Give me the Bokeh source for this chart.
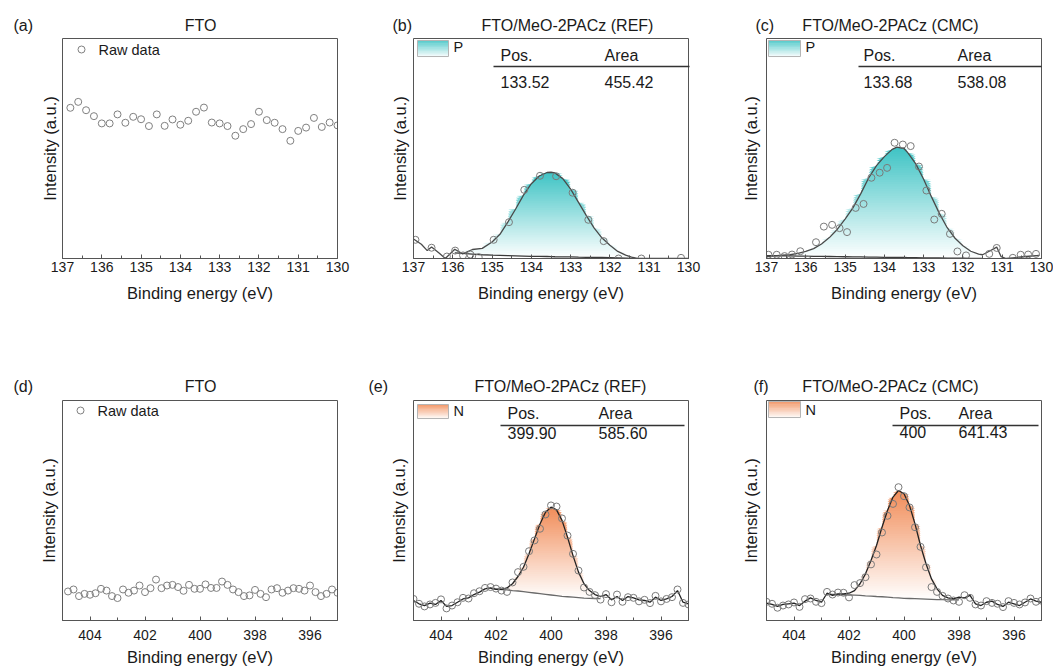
import numpy as np
from bokeh.plotting import figure
from bokeh.layouts import column, row
from bokeh.models import Range1d, FixedTicker, Label
from bokeh.embed import file_html
from bokeh.resources import INLINE

FONT = "Liberation Sans"
TXT = "#1a1a1a"
EDGE = "#555555"
TEAL = (62, 195, 196)
ORANGE = (241, 140, 88)

# ---------------- data ----------------
titles = ["FTO", "FTO/MeO-2PACz (REF)", "FTO/MeO-2PACz (CMC)",
          "FTO", "FTO/MeO-2PACz (REF)", "FTO/MeO-2PACz (CMC)"]
letters = ["(a)", "(b)", "(c)", "(d)", "(e)", "(f)"]
x_label = "Binding energy (eV)"
y_label = "Intensity (a.u.)"
raw_label = "Raw data"
p_ticks = [137, 136, 135, 134, 133, 132, 131, 130]
p_minor = [136.5, 135.5, 134.5, 133.5, 132.5, 131.5, 130.5]
n_ticks = [404, 402, 400, 398, 396]
n_minor = [405, 403, 401, 399, 397, 395]
table_head = ["Pos.", "Area"]
b_table = ["133.52", "455.42"]
c_table = ["133.68", "538.08"]
e_table = ["399.90", "585.60"]
f_table = ["400", "641.43"]

# (a) FTO, P region raw data
a_x = [136.8, 136.6, 136.4, 136.2, 136.0, 135.8, 135.6, 135.4, 135.2, 135.0,
       134.8, 134.6, 134.4, 134.2, 134.0, 133.8, 133.6, 133.4, 133.2, 133.0,
       132.8, 132.6, 132.4, 132.2, 132.0, 131.8, 131.6, 131.4, 131.2, 131.0,
       130.8, 130.6, 130.4, 130.2, 130.0]
a_y = [68.5, 71.2, 67.4, 64.7, 61.4, 61.4, 65.5, 61.7, 64.4, 63.3,
       60.2, 65.5, 60.3, 63.2, 60.8, 62.6, 66.7, 68.6, 61.8, 61.4,
       60.2, 55.8, 58.8, 61.1, 66.7, 62.9, 61.7, 58.8, 53.5, 58.0,
       59.5, 63.9, 59.8, 61.8, 60.5]

# (b) REF, P region
b_x = [136.95, 136.54, 136.15, 135.94, 135.74, 135.55, 135.34, 134.96, 134.57,
       134.18, 133.78, 133.37, 132.95, 132.55, 132.16, 131.78, 131.2, 130.19]
b_y = [8.5, 4.9, 0.9, 3.6, 1.4, 1.8, 0.6, 8.5, 16.5,
       31.2, 37.6, 37.4, 29.9, 17.6, 7.9, 0.0, 0.0, 0.3]
b_fit_x = [137.0, 136.8, 136.65, 136.54, 136.35, 136.19, 135.95, 135.75, 135.5, 135.25,
           135.0, 134.8, 134.6, 134.4, 134.2, 134.0, 133.8, 133.6, 133.5, 133.4,
           133.2, 133.0, 132.8, 132.6, 132.4, 132.2, 132.0, 131.8, 131.6, 131.45,
           131.3, 131.0, 130.5, 130.0]
b_fit_y = [8.9, 6.5, 3.6, 5.2, 2.5, 0.0, 4.2, 2.1, 4.1, 4.6,
           7.5, 11.0, 16.5, 22.5, 28.8, 34.0, 37.5, 39.1, 39.2, 38.9,
           36.3, 31.5, 25.5, 19.5, 13.8, 9.3, 6.0, 3.2, 1.5, 0.6,
           0.0, 0.0, 0.0, 0.0]
b_base_y = [None, None, None, None, None, None, 2.6, 2.3, 2.0, 1.7,
            1.5, 1.4, 1.3, 1.2, 1.1, 1.0, 0.95, 0.9, 0.85, 0.8,
            0.75, 0.7, 0.6, 0.55, 0.5, 0.45, 0.4, 0.3, 0.2, 0.1,
            None, None, None, None]

# (c) CMC, P region
c_x = [136.95, 136.74, 136.54, 136.35, 136.14, 135.95, 135.74, 135.54, 135.33, 135.14,
       134.95, 134.73, 134.53, 134.33, 134.12, 133.93, 133.74, 133.53, 133.33, 133.12,
       132.93, 132.73, 132.54, 132.33, 132.14, 131.92, 131.33, 131.14, 130.73, 130.53,
       130.34, 130.14]
c_y = [1.7, 1.7, 1.1, 1.8, 3.3, -0.6, 7.4, 14.5, 15.3, 13.8,
       12.0, 23.0, 24.8, 36.7, 39.0, 41.2, 52.6, 51.8, 51.1, 41.8,
       30.9, 17.7, 20.3, 11.2, 3.2, 1.4, 2.1, 4.8, 0.3, 1.7,
       1.8, 2.1]
c_fit_x = [137.0, 136.8, 136.6, 136.4, 136.2, 136.0, 135.8, 135.6, 135.4, 135.2,
           135.0, 134.8, 134.6, 134.4, 134.2, 134.0, 133.8, 133.68, 133.5, 133.4,
           133.2, 133.0, 132.8, 132.6, 132.4, 132.2, 132.0, 131.8, 131.6, 131.5,
           131.33, 131.14, 131.03, 130.9, 130.73, 130.4, 130.05]
c_fit_y = [0.9, 1.2, 1.5, 1.7, 2.3, 3.2, 4.5, 6.6, 9.5, 13.2,
           17.9, 23.0, 29.5, 36.6, 42.2, 46.3, 49.6, 50.6, 50.0, 48.0,
           43.0, 36.0, 28.0, 20.5, 14.0, 9.2, 5.8, 3.3, 2.0, 1.7,
           3.3, 5.2, 0.9, 0.0, 0.3, 0.9, 1.4]
c_base_y = [1.3, 1.25, 1.2, 1.15, 1.1, 1.05, 1.0, 0.95, 0.9, 0.85,
            0.8, 0.75, 0.7, 0.65, 0.6, 0.55, 0.5, 0.45, 0.45, 0.4,
            0.35, 0.3, 0.3, 0.25, 0.2, 0.2, 0.15, 0.1, 0.05, 0.0,
            None, None, None, None, None, None, None]

# (d) FTO, N region raw data
d_x = [404.8, 404.6, 404.4, 404.2, 404.0, 403.8, 403.6, 403.4, 403.2, 403.0,
       402.8, 402.6, 402.4, 402.2, 402.0, 401.8, 401.6, 401.4, 401.2, 401.0,
       400.8, 400.6, 400.4, 400.2, 400.0, 399.8, 399.6, 399.4, 399.2, 399.0,
       398.8, 398.6, 398.4, 398.2, 398.0, 397.8, 397.6, 397.4, 397.2, 397.0,
       396.8, 396.6, 396.4, 396.2, 396.0, 395.8, 395.6, 395.4, 395.2, 395.0]
d_y = [13.2, 14.1, 11.1, 12.1, 11.7, 12.4, 14.4, 13.6, 11.1, 10.2,
       14.1, 12.6, 13.6, 15.9, 12.9, 14.7, 18.6, 14.7, 15.9, 16.2,
       15.2, 13.5, 16.2, 14.4, 14.4, 16.4, 14.8, 14.8, 17.7, 16.2,
       14.1, 12.9, 11.1, 11.4, 13.9, 12.1, 10.6, 14.1, 14.7, 12.6,
       13.6, 14.7, 14.4, 13.6, 15.9, 12.9, 11.1, 12.1, 14.1, 12.6]

# (e) / (f) N region, shared energy grid
n_x = [405.0, 404.8, 404.6, 404.4, 404.2, 404.0, 403.8, 403.6, 403.4, 403.2,
       403.0, 402.8, 402.6, 402.4, 402.2, 402.0, 401.8, 401.6, 401.4, 401.2,
       401.0, 400.8, 400.6, 400.4, 400.2, 400.0, 399.8, 399.6, 399.4, 399.2,
       399.0, 398.8, 398.6, 398.4, 398.2, 398.0, 397.8, 397.6, 397.4, 397.2,
       397.0, 396.8, 396.6, 396.4, 396.2, 396.0, 395.8, 395.6, 395.4, 395.2,
       395.0]
e_y = [9.8, 7.6, 6.4, 7.3, 8.0, 9.6, 5.5, 6.8, 8.3, 10.3,
       10.0, 12.4, 13.3, 14.8, 15.2, 14.5, 13.6, 13.0, 17.3, 22.0,
       24.4, 31.5, 36.4, 41.7, 48.2, 52.3, 51.8, 46.4, 38.6, 30.3,
       22.7, 15.0, 13.0, 11.5, 9.5, 12.0, 8.3, 11.8, 8.5, 10.6,
       10.3, 8.7, 9.4, 7.9, 11.2, 8.7, 9.8, 10.6, 14.1, 8.0, 7.3]
e_fit = [9.1, 7.6, 6.8, 7.9, 7.3, 9.1, 6.4, 6.8, 8.3, 9.8,
         10.3, 11.8, 12.9, 14.4, 14.8, 14.2, 14.2, 14.8, 16.7, 20.0,
         24.2, 30.3, 37.1, 43.9, 49.2, 51.5, 50.3, 45.5, 37.9, 29.5,
         22.0, 16.7, 13.6, 11.8, 10.9, 11.8, 9.4, 10.9, 9.1, 10.9,
         10.3, 9.4, 9.1, 8.3, 10.6, 9.1, 9.8, 10.9, 13.6, 8.3, 7.6]
e_base = [None] * 14 + [14.6, 14.3, 14.1, 13.9, 13.6, 13.4, 13.1, 12.8, 12.5, 12.2,
                        11.9, 11.6, 11.3, 11.0, 10.8, 10.6, 10.4, 10.2, 10.1, 10.0,
                        9.9] + [None] * 16
f_y = [8.5, 7.6, 5.8, 6.8, 7.3, 8.2, 6.2, 9.7, 10.0, 8.5,
       7.9, 13.0, 11.8, 12.7, 12.6, 10.5, 16.1, 17.0, 19.7, 25.5,
       30.0, 40.0, 47.6, 53.0, 60.6, 56.5, 51.4, 42.4, 33.5, 24.2,
       15.2, 13.0, 11.2, 10.0, 9.1, 8.5, 11.5, 10.3, 7.3, 6.8,
       8.8, 8.0, 7.6, 6.1, 8.8, 8.0, 7.3, 8.2, 10.0, 8.5, 9.0]
f_fit = [7.9, 7.3, 6.4, 7.3, 7.6, 7.9, 6.8, 8.8, 10.3, 9.1,
         8.3, 12.4, 11.4, 12.1, 12.1, 12.4, 13.6, 16.7, 21.2, 27.3,
         34.1, 42.4, 50.0, 56.1, 59.1, 57.6, 52.3, 43.9, 34.1, 25.8,
         18.9, 14.4, 11.4, 10.3, 9.8, 10.6, 10.3, 11.4, 7.6, 6.8,
         8.3, 8.8, 7.3, 6.4, 8.3, 7.6, 6.8, 8.3, 9.8, 8.8, 8.3]
f_base = [None] * 11 + [12.0, 11.9, 11.8, 11.7, 11.6, 11.5, 11.4, 11.2, 11.1, 10.9,
                        10.8, 10.6, 10.4, 10.3, 10.1, 10.0, 9.9, 9.8, 9.7, 9.6,
                        9.5, 9.5, 9.4, 9.4, 9.4] + [None] * 15

# ---------------- layout constants (pixels) ----------------
BW, BH = 275, 220            # plot box size
WIDTHS = [352, 352, 349]     # figure widths per column
BOX_L = [62, 61, 62]         # box left inside each figure
ROW_H = [362, 308]           # figure heights per row
BOX_T = 38                   # box top inside each figure
GEOM = {}


def mix(c, t):
    return "#%02x%02x%02x" % tuple(int(round(255 + (ci - 255) * t)) for ci in c)


def X(p, dx):
    a, b = GEOM[p.id][0]
    return a + (b - a) * dx / BW


def Y(p, dy):
    return 100 - 100 * dy / BH


def make_fig(ci, ri, span, ticks, minor):
    w, h, L = WIDTHS[ci], ROW_H[ri], BOX_L[ci]
    a, b = span
    x0 = a + (b - a) * (-L) / BW
    x1 = a + (b - a) * (w - L) / BW
    ytop = 100 + 100 * BOX_T / BH
    ybot = -100 * (h - BOX_T - BH) / BH
    p = figure(width=w, height=h, x_range=Range1d(x0, x1), y_range=Range1d(ybot, ytop),
               output_backend="svg", toolbar_location=None,
               min_border_left=0, min_border_right=0, min_border_top=0,
               min_border_bottom=0)
    GEOM[p.id] = ((a, b), (w, L, ytop, ybot))
    p.background_fill_color = "white"
    p.border_fill_color = "white"
    p.outline_line_color = None
    p.xgrid.grid_line_color = None
    p.ygrid.grid_line_color = None
    p.yaxis.visible = False
    xa = p.xaxis[0]
    xa.fixed_location = 0
    xa.bounds = (min(a, b), max(a, b))
    xa.ticker = FixedTicker(ticks=ticks, minor_ticks=minor)
    xa.major_label_text_font = FONT
    xa.major_label_text_font_size = "14px"
    xa.major_label_text_color = TXT
    xa.axis_line_color = EDGE
    xa.major_tick_line_color = EDGE
    xa.minor_tick_line_color = EDGE
    xa.major_tick_in = 4
    xa.major_tick_out = 0
    xa.minor_tick_in = 3
    xa.minor_tick_out = 0
    xa.major_label_standoff = 3 if ri == 0 else 9
    return p


def finish_box(p, xlab_dy):
    w, L, ytop, ybot = GEOM[p.id][1]
    # white masks outside the plot box, then the box outline
    p.quad(left=[X(p, -L), X(p, BW), X(p, 0), X(p, 0)],
           right=[X(p, 0), X(p, w - L), X(p, BW), X(p, BW)],
           bottom=[ybot, ybot, 100, ybot], top=[ytop, ytop, ytop, 0],
           fill_color="white", line_color=None)
    p.quad(left=[X(p, 0)], right=[X(p, BW)], bottom=[0], top=[100],
           fill_color=None, line_color=EDGE, line_width=1)
    text(p, BW / 2, xlab_dy, x_label, size="16.5px", align="center")


def text(p, dx, dy, s, size="16px", align="left", angle=0.0):
    p.add_layout(Label(x=X(p, dx), y=Y(p, dy), text=s, text_font=FONT, text_font_size=size,
                       text_color=TXT, text_align=align, text_baseline="middle",
                       angle=angle))


def header(p, letter, letter_dx, title, title_cx, dy, ylab_dx):
    text(p, letter_dx, dy, letter)
    text(p, title_cx, dy, title, align="center")
    text(p, ylab_dx, BH / 2, y_label, size="16.5px", align="center", angle=np.pi / 2)


def raw_legend(p, dx, dy):
    p.scatter([X(p, dx)], [Y(p, dy)], marker="circle", size=7, fill_color=None,
              line_color="#808080", line_width=1)
    text(p, dx + 17, dy, raw_label, size="14.5px")


def gradient_fill(p, xs, top, base, color, n=48):
    xs = np.array(xs, dtype=float)
    top = np.array(top, dtype=float)
    base = np.array(base, dtype=float)
    m = ~np.isnan(base)
    xs, top, base = xs[m], top[m], base[m]
    lo, hi = base.min(), top.max()
    for i in range(n):
        a = lo + (hi - lo) * i / n
        y1 = np.maximum(base, a)
        y2 = np.maximum(top, y1)
        p.varea(x=xs, y1=y1, y2=y2, fill_color=mix(color, (i + 0.5) / n))


def swatch(p, box, color, label, ldy):
    x0, y0, x1, y1 = box
    n = 12
    for i in range(n):
        t0 = y0 + (y1 - y0) * i / n
        t1 = y0 + (y1 - y0) * (i + 1) / n
        p.quad(left=[X(p, x0)], right=[X(p, x1)], top=[Y(p, t0)], bottom=[Y(p, t1) - 0.3],
               fill_color=mix(color, 0.85 * (1 - i / n)), line_color=None)
    p.quad(left=[X(p, x0)], right=[X(p, x1)], top=[Y(p, y0)], bottom=[Y(p, y1)],
           fill_color=None, line_color="#b5b5b5", line_width=1)
    text(p, x1 + 5, ldy, label, size="14.5px")


def table(p, pos_dx, area_dx, head_dy, line, val_dy, vals):
    text(p, pos_dx, head_dy, table_head[0])
    text(p, area_dx, head_dy, table_head[1])
    lx0, lx1, ly = line
    p.line([X(p, lx0), X(p, lx1)], [Y(p, ly), Y(p, ly)], line_color="#333333", line_width=1.5)
    text(p, pos_dx, val_dy, vals[0])
    text(p, area_dx, val_dy, vals[1])


def fit_panel(p, x, y, fx, fy, fb, color, env_col, base_col):
    gradient_fill(p, fx, fy, fb, color)
    p.line(np.array(fx, dtype=float), np.array(fb, dtype=float), line_color=base_col, line_width=1.3)
    p.line(fx, fy, line_color=env_col, line_width=1.3)
    p.scatter(x, y, marker="circle", size=7, fill_color=None, line_color="#7a7a7a", line_width=1)


P_SPAN = (137, 130)
N_SPAN = (405, 395)
TOP_XLAB = BH + 34
BOT_XLAB = BH + 36

# (a)
pa = make_fig(0, 0, P_SPAN, p_ticks, p_minor)
pa.scatter(a_x, a_y, marker="circle", size=7, fill_color=None, line_color="#808080", line_width=1)
finish_box(pa, TOP_XLAB)
raw_legend(pa, 19, 11)
header(pa, letters[0], -49, titles[0], 138, -13, -13)

# (b)
pb = make_fig(1, 0, P_SPAN, p_ticks, p_minor)
fit_panel(pb, b_x, b_y, b_fit_x, b_fit_y, b_base_y, TEAL, "#4a4a4a", "#3a3a3a")
finish_box(pb, TOP_XLAB)
swatch(pb, (4, 2, 35, 18), TEAL, "P", 8)
table(pb, 87, 191, 17, (80, 276, 28), 43, b_table)
header(pb, letters[1], -21, titles[1], 154, -13, -14)

# (c)
pc = make_fig(2, 0, P_SPAN, p_ticks, p_minor)
fit_panel(pc, c_x, c_y, c_fit_x, c_fit_y, c_base_y, TEAL, "#4a4a4a", "#3a3a3a")
finish_box(pc, TOP_XLAB)
swatch(pc, (2, 2, 34, 18), TEAL, "P", 8)
table(pc, 97, 191, 17, (92, 275, 28), 43, c_table)
header(pc, letters[2], -11, titles[2], 124, -13, -16)

# (d)
pd_ = make_fig(0, 1, N_SPAN, n_ticks, n_minor)
pd_.scatter(d_x, d_y, marker="circle", size=7, fill_color=None, line_color="#808080", line_width=1)
finish_box(pd_, BOT_XLAB)
raw_legend(pd_, 18, 10)
header(pd_, letters[3], -49, titles[3], 138, -14, -14)

# (e)
pe = make_fig(1, 1, N_SPAN, n_ticks, n_minor)
fit_panel(pe, n_x, e_y, n_x, e_fit, e_base, ORANGE, "#222222", "#6a6a6a")
finish_box(pe, BOT_XLAB)
swatch(pe, (4, 4, 35, 18), ORANGE, "N", 10)
table(pe, 94, 185, 13, (87, 271, 25), 32, e_table)
header(pe, letters[4], -45, titles[4], 147, -14, -15)

# (f)
pf = make_fig(2, 1, N_SPAN, n_ticks, n_minor)
fit_panel(pf, n_x, f_y, n_x, f_fit, f_base, ORANGE, "#222222", "#6a6a6a")
finish_box(pf, BOT_XLAB)
swatch(pf, (2, 1, 34, 17), ORANGE, "N", 9)
table(pf, 133, 192, 13, (126, 272, 25), 31, f_table)
header(pf, letters[5], -13, titles[5], 124, -14, -16)

layout = column(row(pa, pb, pc), row(pd_, pe, pf))
open("out.html", "w").write(file_html(layout, INLINE))
